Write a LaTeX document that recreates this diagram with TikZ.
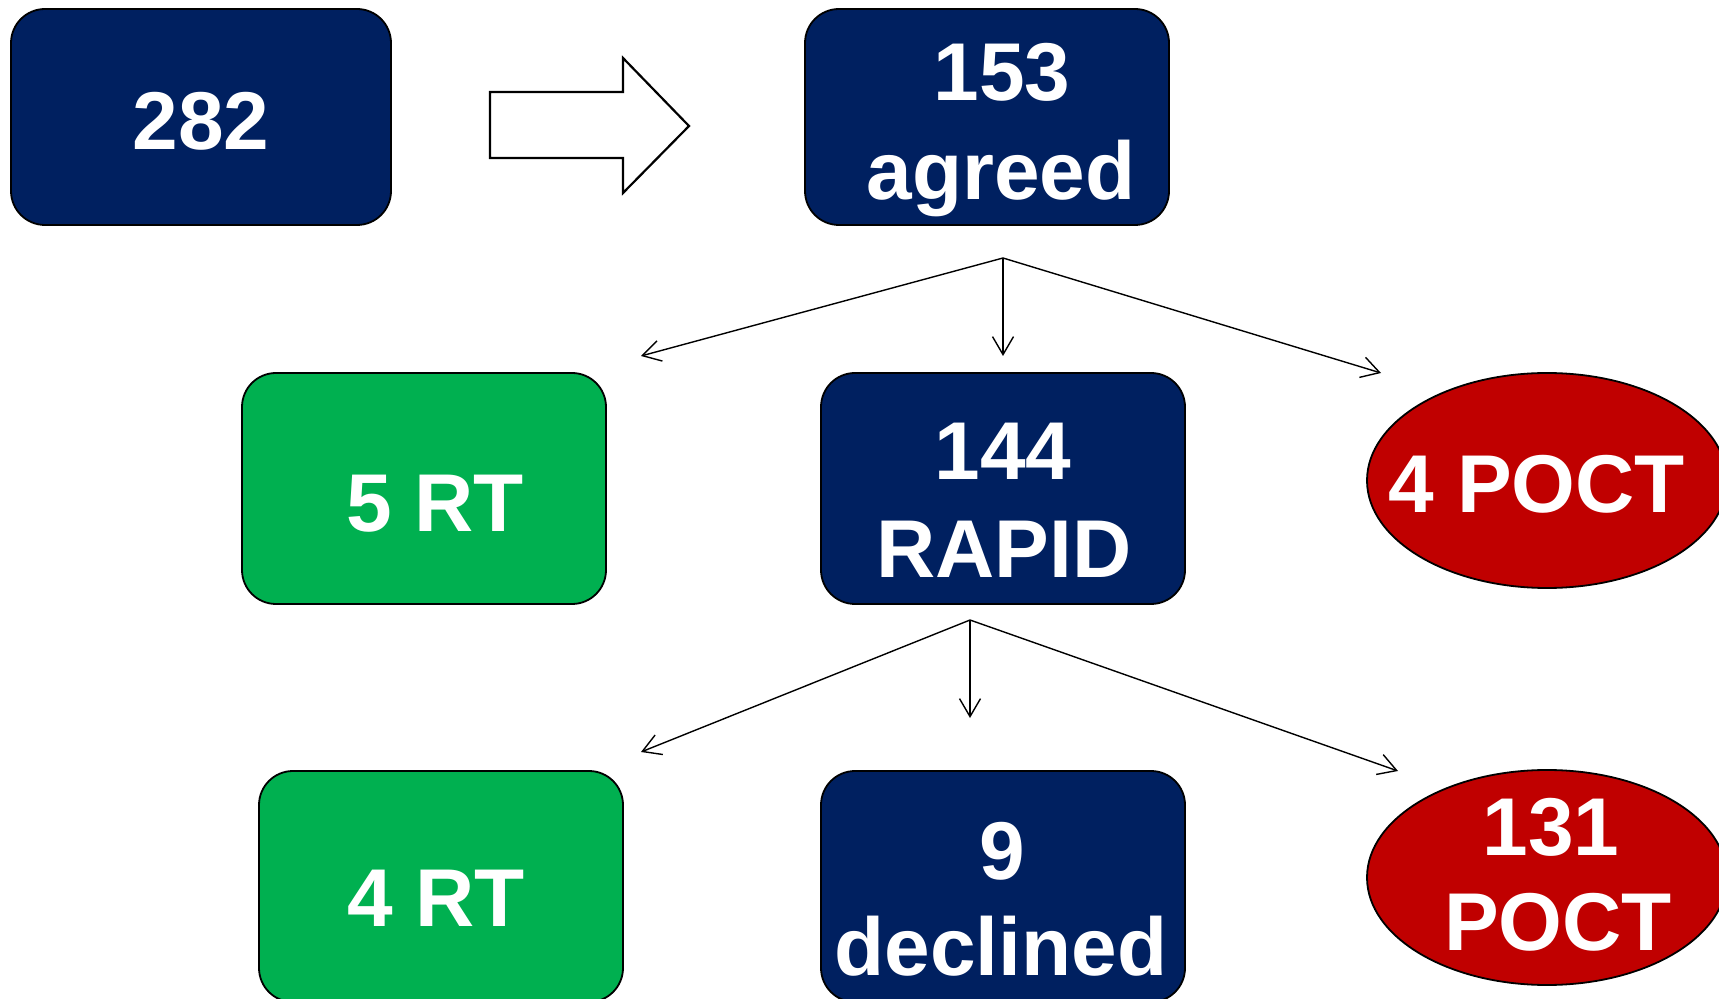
\documentclass[tikz,border=0pt]{standalone}
\usepackage{fontspec}
\setmainfont{Liberation Sans}
\usetikzlibrary{shapes.geometric,arrows.meta}
\definecolor{navy}{HTML}{002060}
\definecolor{grn}{HTML}{00B050}
\definecolor{rd}{HTML}{C00000}
\tikzset{
  box/.style={draw=black, line width=0.9pt, rectangle, rounded corners=17pt, inner sep=0pt, minimum width=182pt},
  oval/.style={draw=black, line width=0.9pt, ellipse, fill=rd, inner sep=0pt, minimum width=180pt, minimum height=107.5pt},
  txt/.style={text=white, font=\fontsize{41}{49}\selectfont\bfseries, anchor=base, inner sep=0pt},
  conn/.style={line width=0.7pt, -{Straight Barb[length=9pt,width=10.5pt,line width=0.7pt]}},
  bigarrow/.style={draw=black, line width=1.1pt, fill=white, line join=miter}
}
\begin{document}
\begin{tikzpicture}[x=0.5pt,y=-0.5pt]
\useasboundingbox (0,0) rectangle (1719,999);
% row 1
\node[box, fill=navy, minimum width=190pt, minimum height=108pt] (b282) at (201,117) {};
\node[txt] (t282) at (201,150) {282};
\node[box, fill=navy, minimum height=108pt] (b153) at (987,117) {};
\node[txt] (t153a) at (1002,101) {153};
\node[txt] (t153b) at (1001,200) {agreed};
\draw[bigarrow] (490,92) -- (623,92) -- (623,58) -- (689,126) -- (623,193) -- (623,158) -- (490,158) -- cycle;
% row 2
\node[box, fill=grn, minimum height=115.5pt] (b5) at (424,488.5) {};
\node[txt] (t5) at (435,532) {5 RT};
\node[box, fill=navy, minimum height=115.5pt] (b144) at (1003,488.5) {};
\node[txt] (t144a) at (1003,480) {144};
\node[txt] (t144b) at (1004,578) {RAPID};
\node[oval] (e4) at (1547,480.5) {};
\node[txt] (te4) at (1537,513) {4 POCT};
% row 3
\node[box, fill=grn, minimum height=115.5pt] (b4) at (441,886.5) {};
\node[txt] (t4) at (436,926) {4 RT};
\node[box, fill=navy, minimum height=115.5pt] (b9) at (1003,886.5) {};
\node[txt] (t9a) at (1002,879) {9};
\node[txt] (t9b) at (1001,975) {declined};
\node[oval] (e131) at (1547,877.5) {};
\node[txt] (te131a) at (1551,855) {131};
\node[txt] (te131b) at (1558,950) {POCT};
% connectors
\coordinate (s1) at (1003,258);
\coordinate (a1l) at (641,356);
\coordinate (a1m) at (1003,356);
\coordinate (a1r) at (1381,373);
\coordinate (s2) at (970,620);
\coordinate (a2l) at (641,752);
\coordinate (a2m) at (970,718);
\coordinate (a2r) at (1398,771);
\draw[conn] (s1) -- (a1l);
\draw[conn] (s1) -- (a1m);
\draw[conn] (s1) -- (a1r);
\draw[conn] (s2) -- (a2l);
\draw[conn] (s2) -- (a2m);
\draw[conn] (s2) -- (a2r);
\end{tikzpicture}
\end{document}
